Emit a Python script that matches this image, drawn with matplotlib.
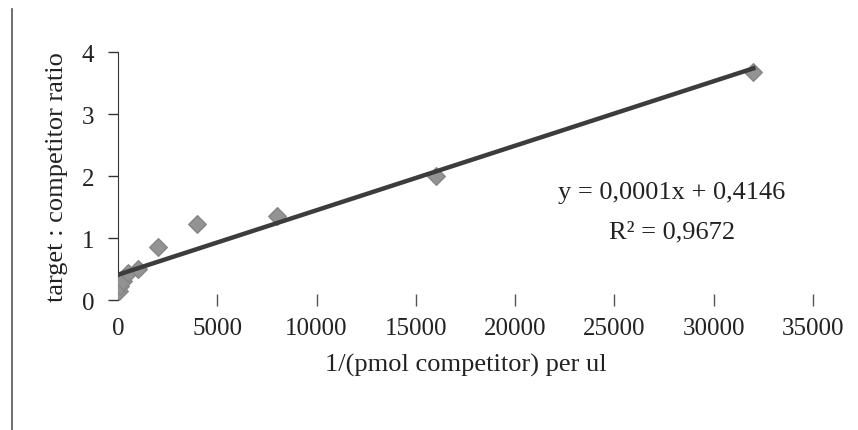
import matplotlib.pyplot as plt
import numpy as np
from matplotlib.lines import Line2D

plt.rcParams['font.family'] = ['Liberation Serif', 'DejaVu Serif']

# competitor dilution series (1/pmol per ul) and measured ratios
conc = [62.5, 125, 250, 500, 1000, 2000, 4000, 8000, 16000, 32000]
ratio = [0.14, 0.22, 0.3, 0.44, 0.5, 0.86, 1.23, 1.36, 2.0, 3.68]
xticks = [0, 5000, 10000, 15000, 20000, 25000, 30000, 35000]
yticks = [0, 1, 2, 3, 4]
eq_text = 'y = 0,0001x + 0,4146'
r2_text = 'R\u00b2 = 0,9672'

slope, icpt = np.polyfit(conc, ratio, 1)

fig = plt.figure(figsize=(8.58, 4.31), dpi=100)
ax = fig.add_axes([0.1375, 0.3016, 0.810, 0.5754])

ax.scatter(conc, ratio, marker='D', s=80, color='#939393', edgecolor='#858585', zorder=3)
xfit = np.array([0, max(conc)])
ax.plot(xfit, slope * xfit + icpt, color='#3c3c3c', lw=3.2, zorder=4)

ax.set_xlim(0, 35000)
ax.set_ylim(0, 4)
ax.set_xticks(xticks)
ax.set_yticks(yticks)
for s in ['top', 'right', 'bottom']:
    ax.spines[s].set_visible(False)
ax.spines['left'].set_color('#333333')
ax.tick_params(axis='y', direction='out', length=7, width=1, colors='#333333',
               labelsize=18, labelcolor='#222222', pad=10)
ax.tick_params(axis='x', direction='inout', length=8, width=1, colors='#555555',
               labelsize=18, labelcolor='#222222', pad=8)
ax.xaxis.get_major_ticks()[0].tick1line.set_visible(False)

ax.set_xlabel('1/(pmol competitor) per ul', fontsize=19, color='#222222', labelpad=10)
ax.set_ylabel('target : competitor ratio', fontsize=19, color='#222222', labelpad=10)

ax.text(27900, 1.74, eq_text, fontsize=19, ha='center', va='center', color='#222222')
ax.text(27900, 1.10, r2_text, fontsize=19, ha='center', va='center', color='#222222')

# scanned chart frame edge on the left
fig.add_artist(Line2D([12 / 858, 12 / 858], [0, 1 - 10 / 431], color='#555555', lw=1.2))

fig.savefig('out.png', dpi=100)
